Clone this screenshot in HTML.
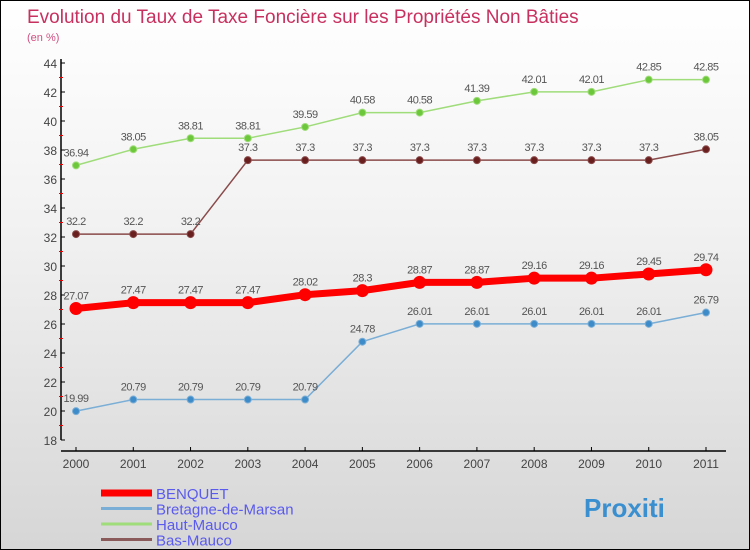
<!DOCTYPE html>
<html><head><meta charset="utf-8"><style>
body{margin:0}
#c{width:750px;height:550px;position:relative;overflow:hidden;box-sizing:border-box;border:1px solid #000;background:linear-gradient(#fff,#f2f2f2 40%,#d6d6d6);font-family:"Liberation Sans",sans-serif}
svg{position:absolute;left:0;top:0}
</style></head><body>
<div id="c">
<svg id="s" width="750" height="550">
<text x="26" y="22" font-size="19" fill="#c8305f">Evolution du Taux de Taxe Foncière sur les Propriétés Non Bâties</text>
<text x="26" y="40" font-size="11" fill="#d05080">(en %)</text>
</svg>
</div>
<script>
const years=["2000","2001","2002","2003","2004","2005","2006","2007","2008","2009","2010","2011"];
const yTicks=[18,20,22,24,26,28,30,32,34,36,38,40,42,44];
const benquet=[27.07,27.47,27.47,27.47,28.02,28.3,28.87,28.87,29.16,29.16,29.45,29.74];
const bretagne=[19.99,20.79,20.79,20.79,20.79,24.78,26.01,26.01,26.01,26.01,26.01,26.79];
const haut=[36.94,38.05,38.81,38.81,39.59,40.58,40.58,41.39,42.01,42.01,42.85,42.85];
const bas=[32.2,32.2,32.2,37.3,37.3,37.3,37.3,37.3,37.3,37.3,37.3,38.05];
const labels={benquet:["27.07","27.47","27.47","27.47","28.02","28.3","28.87","28.87","29.16","29.16","29.45","29.74"],
bretagne:["19.99","20.79","20.79","20.79","20.79","24.78","26.01","26.01","26.01","26.01","26.01","26.79"],
haut:["36.94","38.05","38.81","38.81","39.59","40.58","40.58","41.39","42.01","42.01","42.85","42.85"],
bas:["32.2","32.2","32.2","37.3","37.3","37.3","37.3","37.3","37.3","37.3","37.3","38.05"]};
const NS="http://www.w3.org/2000/svg",s=document.getElementById('s');
const X=i=>75+i*(630/(years.length-1));
const Y=v=>439-(v-18)*(377/26);
function el(t,a,p){const e=document.createElementNS(NS,t);for(const k in a)e.setAttribute(k,a[k]);(p||s).appendChild(e);return e;}
// axes
let ax=el('line',{x1:60,y1:58,x2:60,y2:439,stroke:'#000','stroke-width':1.5});


let ax2=el('line',{x1:60,y1:450,x2:725,y2:450,stroke:'#000','stroke-width':1.5});


yTicks.forEach(v=>{
 el('line',{x1:60,y1:Y(v),x2:64,y2:Y(v),stroke:'#000'});
 if(v<44) el('line',{x1:58,y1:Y(v+1),x2:62,y2:Y(v+1),stroke:'#e00'});
 const t=el('text',{x:56,y:Y(v)+5,'font-size':12,fill:'#444','text-anchor':'end'});t.textContent=v;
 
 
});
years.forEach((y,i)=>{
 el('line',{x1:X(i),y1:446,x2:X(i),y2:450,stroke:'#000'});
 const t=el('text',{x:X(i),y:467,'font-size':12,fill:'#444','text-anchor':'middle'});t.textContent=y;
 
 
});
function series(name,data,lab,color,w,r,dot,labcol){
 const g=el('g',{});
 
 
 el('polyline',{points:data.map((v,i)=>X(i)+','+Y(v)).join(' '),fill:'none',stroke:color,'stroke-width':w,'stroke-linejoin':'round'},g);
 data.forEach((v,i)=>{
  const c=el('circle',{cx:X(i),cy:Y(v),r:r,fill:dot,stroke:color,'stroke-width':1},g);
  
  
  const t=el('text',{x:X(i),y:Y(v)-9,'font-size':11,fill:labcol,'text-anchor':'middle','letter-spacing':'-0.5'},g);t.textContent=lab[i];
 });
}
series('haut-mauco',haut,labels.haut,'#9fdc7a',1.5,3.5,'#6cc83a','#555');
series('bas-mauco',bas,labels.bas,'#8a4a4a',1.5,3.5,'#6a1f1f','#555');
series('bretagne',bretagne,labels.bretagne,'#7aaed6',1.5,3.5,'#3d8cc9','#555');
series('benquet',benquet,labels.benquet,'#f00',7,6,'#f00','#555');
// legend
const leg=[['BENQUET','#f00',7],['Bretagne-de-Marsan','#7aaed6',3],['Haut-Mauco','#9fdc7a',3],['Bas-Mauco','#8a5a5a',3]];
leg.forEach((l,i)=>{
 const yy=492+i*15.5;
 el('line',{x1:100,y1:yy,x2:151,y2:yy,stroke:l[1],'stroke-width':l[2]});
 const t=el('text',{x:155,y:yy+6,'font-size':15,fill:'#5a5aee'});t.textContent=l[0];
 
 
});
const p=el('text',{x:583,y:516,'font-size':26,'font-weight':'bold',fill:'#3a8fd0'});p.textContent='Proxiti';


</script>
</body></html>
